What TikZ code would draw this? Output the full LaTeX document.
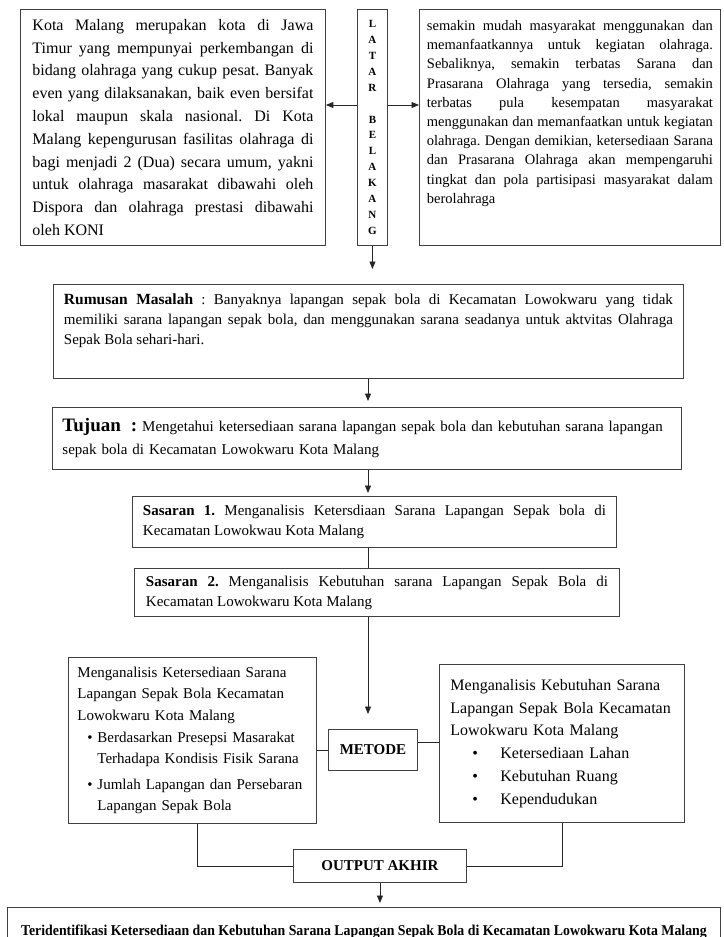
\documentclass[tikz,border=0pt]{standalone}
\usepackage{fontspec}
\usepackage{graphicx}
\setmainfont{Liberation Serif}
\usetikzlibrary{calc,arrows.meta}
\frenchspacing

\begin{document}
\begin{tikzpicture}[
		x=1pt, y=-1pt,
		>={Triangle[length=7.5pt,width=6pt]},
		kotak/.style={draw=black!75, line width=0.9pt, anchor=north west},
		panah/.style={line width=0.9pt, draw=black!85, ->},
		garis/.style={line width=0.9pt, draw=black!85}
	]

		\useasboundingbox (0,0) rectangle (723,937);

		%latar belakang
		\node[kotak, minimum width=30pt, minimum height=236pt, inner sep=0pt, align=center,
			font=\fontsize{11}{15.9}\selectfont\bfseries] (latar) at (357,9)
			{L\\A\\T\\A\\R\\[15.9pt]B\\E\\L\\A\\K\\A\\N\\G};

		\node[kotak, minimum width=305pt, minimum height=236pt, inner xsep=12pt, text width=281pt,
			align=justify, font=\fontsize{16}{22.8}\selectfont] (kiri) at (20,9)
			{Kota Malang merupakan kota di Jawa\linebreak
			Timur yang mempunyai perkembangan di\linebreak
			bidang olahraga yang cukup pesat. Banyak\linebreak
			even yang dilaksanakan, baik even bersifat\linebreak
			lokal maupun skala nasional. Di Kota\linebreak
			Malang kepengurusan fasilitas olahraga di\linebreak
			bagi menjadi 2 (Dua) secara umum, yakni\linebreak
			untuk olahraga masarakat dibawahi oleh\linebreak
			Dispora dan olahraga prestasi dibawahi\linebreak
			oleh KONI};

		\node[kotak, inner xsep=7.5pt, inner ysep=11pt, font=\fontsize{14.5}{19.2}\selectfont] (kanan) at (419,9)
			{\parbox[c][214pt][t]{286pt}{semakin mudah masyarakat menggunakan dan\linebreak
			memanfaatkannya untuk kegiatan olahraga.\linebreak
			Sebaliknya, semakin terbatas Sarana dan\linebreak
			Prasarana Olahraga yang tersedia, semakin\linebreak
			terbatas pula kesempatan masyarakat\linebreak
			menggunakan dan memanfaatkan untuk kegiatan\linebreak
			olahraga. Dengan demikian, ketersediaan Sarana\linebreak
			dan Prasarana Olahraga akan mempengaruhi\linebreak
			tingkat dan pola partisipasi masyarakat dalam\linebreak
			berolahraga}};

		%rumusan + tujuan
		\node[kotak, inner xsep=10.5pt, inner ysep=9pt, font=\fontsize{15}{20}\selectfont] (rumusan) at (53,284)
			{\parbox[c][76pt][t]{609pt}{{\fontsize{15.5}{20}\selectfont\bfseries Rumusan Masalah} : Banyaknya lapangan sepak bola di Kecamatan Lowokwaru yang tidak\linebreak
			memiliki sarana lapangan sepak bola, dan menggunakan sarana seadanya untuk aktvitas Olahraga\linebreak
			Sepak Bola sehari-hari.}};

		\node[kotak, minimum width=629pt, minimum height=62pt, inner xsep=10pt, text width=609pt,
			align=left, font=\fontsize{15}{23}\selectfont] (tujuan) at (52,407)
			{{\fontsize{19}{23}\selectfont\bfseries Tujuan~ :} Mengetahui ketersediaan sarana lapangan sepak bola dan kebutuhan sarana lapangan\\
			sepak bola di Kecamatan Lowokwaru Kota Malang};

		%sasaran
		\node[kotak, minimum width=484pt, minimum height=51pt, inner xsep=10.5pt, text width=463pt,
			align=justify, font=\fontsize{15}{20}\selectfont] (sasaran1) at (132,496)
			{\textbf{Sasaran 1.} Menganalisis Ketersdiaan Sarana Lapangan Sepak bola di\linebreak
			Kecamatan Lowokwau Kota Malang};

		\node[kotak, minimum width=485pt, minimum height=48pt, inner xsep=11.5pt, text width=462pt,
			align=justify, font=\fontsize{15}{20}\selectfont] (sasaran2) at (134,568)
			{\textbf{Sasaran 2.} Menganalisis Kebutuhan sarana Lapangan Sepak Bola di\linebreak
			Kecamatan Lowokwaru Kota Malang};

		%metode
		\node[kotak, minimum width=248pt, minimum height=166pt, inner xsep=9pt, text width=230pt,
			align=left, font=\fontsize{15}{21.6}\selectfont] (analisis1) at (68,657)
			{Menganalisis Ketersediaan Sarana\\
			Lapangan Sepak Bola Kecamatan\\
			Lowokwaru Kota Malang\\
			\hspace*{10pt}\makebox[10pt][l]{\textbullet}Berdasarkan Presepsi Masarakat\\
			\hspace*{20pt}Terhadapa Kondisis Fisik Sarana\\[4pt]
			\hspace*{10pt}\makebox[10pt][l]{\textbullet}Jumlah Lapangan dan Persebaran\\
			\hspace*{20pt}Lapangan Sepak Bola};

		\node[kotak, minimum width=245pt, minimum height=158pt, inner xsep=11pt, text width=223pt,
			align=left, font=\fontsize{16}{22.8}\selectfont] (analisis2) at (439,664)
			{Menganalisis Kebutuhan Sarana\\
			Lapangan Sepak Bola Kecamatan\\
			Lowokwaru Kota Malang\\
			\hspace*{22pt}\makebox[28pt][l]{\textbullet}Ketersediaan Lahan\\
			\hspace*{22pt}\makebox[28pt][l]{\textbullet}Kebutuhan Ruang\\
			\hspace*{22pt}\makebox[28pt][l]{\textbullet}Kependudukan};

		\node[kotak, minimum width=89pt, minimum height=41pt, font=\fontsize{15}{18}\selectfont\bfseries] (metode) at (328,729) {METODE};

		%output
		\node[kotak, minimum width=173pt, minimum height=33pt, font=\fontsize{15}{18}\selectfont\bfseries] (output) at (293,849) {OUTPUT AKHIR};

		\node[kotak, minimum width=713pt, minimum height=48pt, font=\fontsize{15}{18}\selectfont\bfseries] (hasil) at (7,907)
			{\scalebox{0.922}[1]{Teridentifikasi Ketersediaan dan Kebutuhan Sarana Lapangan Sepak Bola di Kecamatan Lowokwaru Kota Malang}};

		%connectors
		\coordinate (cabang) at (372,105);
		\coordinate (tulang) at (368,0);

		\draw[panah] (latar.west |- cabang) -- (kiri.east |- cabang);
		\draw[panah] (latar.east |- cabang) -- (kanan.west |- cabang);
		\draw[panah, shorten >=15pt] (latar.south) -- (latar.south |- rumusan.north);
		\draw[panah, shorten >=6pt] (rumusan.south -| tulang) -- (tujuan.north -| tulang);
		\draw[panah, shorten >=3pt] (tujuan.south -| tulang) -- (sasaran1.north -| tulang);
		\draw[garis] (sasaran1.south -| tulang) -- (sasaran2.north -| tulang);
		\draw[panah, shorten >=15pt] (sasaran2.south -| tulang) -- (metode.north -| tulang);
		\draw[garis] (analisis1.east |- metode.west) -- (metode.west);
		\draw[garis] ([yshift=8pt]metode.east) -- ([yshift=8pt]metode.east -| analisis2.west);
		\draw[garis] ([xshift=5pt]analisis1.south) |- (output.west);
		\draw[garis] (analisis2.south) |- (output.east);
		\draw[panah, shorten >=4pt] (output.south) -- (output.south |- hasil.north);
	\end{tikzpicture}
\end{document}
